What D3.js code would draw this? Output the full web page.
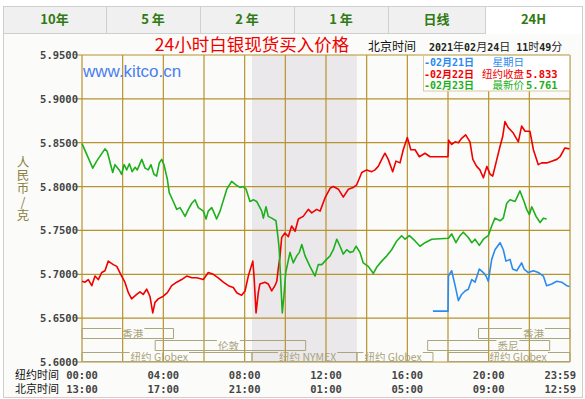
<!DOCTYPE html>
<html>
<head>
<meta charset="utf-8">
<script src="https://cdn.jsdelivr.net/npm/d3@7"></script>
<style>
body { margin:0; background:#fff; }
svg { display:block; }
</style>
</head>
<body>
<div id="chart"></div>
<script>
// tabs across the top
var tabNames = ['10年', '5 年', '2 年', '1 年', '日线', '24H'];
var tabEdges = [3, 106, 200, 294, 388, 485, 582];

var yTicks = [5.60, 5.65, 5.70, 5.75, 5.80, 5.85, 5.90, 5.95];
var nyTimes = ['00:00', '04:00', '08:00', '12:00', '16:00', '20:00', '23:59'];
var bjTimes = ['13:00', '17:00', '21:00', '01:00', '05:00', '09:00', '12:59'];
var timeHours = [0, 4, 8, 12, 16, 20, 24];

// [hour of New York day, price]
var blueSeries = [[17.26,5.658],[18.0,5.658],[18.02,5.698],[18.18,5.704],[18.35,5.687],[18.51,5.670],[18.67,5.677],
	[18.84,5.681],[19.0,5.683],[19.17,5.694],[19.33,5.691],[19.54,5.706],[19.74,5.702],[19.87,5.698],[19.98,5.692],
	[20.15,5.717],[20.31,5.728],[20.56,5.736],[20.72,5.728],[20.85,5.715],[21.05,5.717],[21.18,5.706],[21.38,5.704],
	[21.62,5.713],[21.74,5.706],[21.95,5.702],[22.2,5.704],[22.44,5.702],[22.69,5.698],[22.85,5.687],[23.1,5.689],
	[23.35,5.692],[23.59,5.691],[23.84,5.687],[23.97,5.686]];

var redSeries = [[0,5.692],[0.15,5.691],[0.31,5.694],[0.48,5.687],[0.64,5.698],[0.8,5.694],[0.97,5.702],[1.13,5.704],
	[1.29,5.715],[1.54,5.711],[1.71,5.709],[1.95,5.698],[2.11,5.691],[2.28,5.679],[2.44,5.672],[2.69,5.677],[2.85,5.680],
	[3.01,5.677],[3.18,5.683],[3.34,5.675],[3.48,5.656],[3.59,5.668],[3.75,5.672],[4.0,5.675],[4.2,5.679],[4.41,5.687],
	[4.66,5.691],[4.9,5.694],[5.15,5.698],[5.4,5.696],[5.64,5.696],[5.97,5.694],[6.21,5.702],[6.46,5.700],[6.7,5.696],
	[6.95,5.691],[7.2,5.687],[7.44,5.685],[7.61,5.679],[7.85,5.676],[8.02,5.681],[8.18,5.698],[8.4,5.715],[8.46,5.698],
	[8.56,5.656],[8.67,5.679],[8.75,5.689],[9.0,5.691],[9.16,5.689],[9.33,5.681],[9.49,5.687],[9.58,5.692],[9.65,5.706],
	[9.74,5.721],[9.82,5.742],[9.98,5.747],[10.15,5.743],[10.31,5.755],[10.48,5.749],[10.64,5.763],[10.88,5.766],
	[11.13,5.774],[11.3,5.770],[11.54,5.774],[11.71,5.772],[11.95,5.787],[12.2,5.798],[12.36,5.800],[12.61,5.797],
	[12.85,5.788],[13.1,5.797],[13.34,5.799],[13.51,5.802],[13.76,5.816],[14.0,5.819],[14.25,5.817],[14.41,5.819],
	[14.57,5.823],[14.74,5.831],[14.9,5.838],[15.06,5.831],[15.28,5.817],[15.44,5.829],[15.64,5.827],[15.8,5.842],
	[16.0,5.856],[16.17,5.842],[16.38,5.842],[16.59,5.834],[16.87,5.838],[17.12,5.834],[18.0,5.834],[18.03,5.853],
	[18.18,5.848],[18.35,5.851],[18.51,5.850],[18.67,5.855],[18.87,5.859],[19.08,5.851],[19.22,5.831],[19.41,5.823],
	[19.57,5.819],[19.74,5.810],[19.91,5.823],[20.07,5.814],[20.2,5.812],[20.36,5.827],[20.56,5.846],[20.69,5.857],
	[20.8,5.874],[20.97,5.867],[21.21,5.861],[21.46,5.851],[21.62,5.869],[21.79,5.863],[22.03,5.863],[22.2,5.842],
	[22.44,5.825],[22.61,5.827],[22.85,5.827],[23.1,5.829],[23.35,5.831],[23.51,5.834],[23.75,5.844],[23.97,5.843]];

var greenSeries = [[0,5.849],[0.53,5.821],[0.72,5.829],[1.13,5.843],[1.24,5.840],[1.51,5.816],[1.62,5.825],[1.83,5.819],
	[1.95,5.814],[2.07,5.825],[2.2,5.819],[2.33,5.826],[2.47,5.817],[2.61,5.822],[2.72,5.819],[2.94,5.831],[3.1,5.821],
	[3.26,5.819],[3.39,5.825],[3.54,5.814],[3.67,5.812],[3.8,5.827],[3.92,5.831],[4.03,5.825],[4.2,5.808],[4.29,5.793],
	[4.49,5.783],[4.66,5.774],[4.82,5.776],[5.07,5.766],[5.23,5.774],[5.4,5.781],[5.56,5.785],[5.72,5.776],[5.97,5.772],
	[6.1,5.763],[6.21,5.772],[6.38,5.776],[6.46,5.772],[6.62,5.763],[6.79,5.772],[7.12,5.797],[7.36,5.806],[7.57,5.802],
	[7.77,5.799],[7.93,5.800],[8.07,5.797],[8.26,5.783],[8.43,5.785],[8.59,5.783],[8.84,5.772],[8.92,5.764],[9.05,5.777],
	[9.16,5.766],[9.33,5.764],[9.54,5.761],[9.65,5.740],[9.7,5.728],[9.77,5.694],[9.85,5.656],[9.93,5.675],[10.02,5.702],
	[10.23,5.725],[10.39,5.713],[10.56,5.721],[10.69,5.725],[10.81,5.734],[10.97,5.721],[11.21,5.709],[11.46,5.698],
	[11.62,5.711],[11.79,5.711],[12.03,5.717],[12.2,5.721],[12.36,5.728],[12.53,5.740],[12.69,5.732],[12.85,5.723],
	[13.02,5.728],[13.18,5.725],[13.34,5.726],[13.48,5.732],[13.67,5.725],[13.83,5.713],[14.08,5.709],[14.33,5.701],
	[14.49,5.708],[14.74,5.715],[14.99,5.721],[15.23,5.728],[15.48,5.738],[15.72,5.744],[15.89,5.740],[16.1,5.744],
	[16.38,5.738],[16.62,5.732],[16.87,5.736],[17.2,5.740],[18.02,5.741],[18.18,5.746],[18.39,5.736],[18.59,5.744],
	[18.75,5.748],[19.0,5.742],[19.17,5.736],[19.33,5.740],[19.54,5.733],[19.74,5.740],[19.98,5.744],[20.15,5.755],
	[20.31,5.764],[20.56,5.761],[20.72,5.764],[20.89,5.781],[21.05,5.785],[21.3,5.783],[21.54,5.795],[21.74,5.783],
	[21.87,5.774],[22.0,5.768],[22.12,5.777],[22.33,5.766],[22.53,5.759],[22.69,5.764],[22.85,5.763]];

var legendRows = [
	{day:'-02月21日', label:'星期日', value:'', color:'#2b8af0'},
	{day:'-02月22日', label:'纽约收盘', value:'5.833', color:'#f00000'},
	{day:'-02月23日', label:'最新价', value:'5.761', color:'#1cb01c'}
];

// trading sessions at the foot of the chart (row, start hour, end hour, label centre hour)
var sessionNames = ['香港', '香港', '伦敦', '悉尼', '纽约 Globex', '纽约 NYMEX', '纽约 Globex', '纽约 Globex'];
var sessionRows = [0, 0, 1, 1, 2, 2, 2, 2];
var sessionStart = [0, 19.5, 3.6, 17.0, 0, 8.36, 13.52, 18.0];
var sessionEnd = [4.5, 24.5, 11.0, 23.0, 8.36, 13.52, 17.26, 24.5];
var sessionLabelAt = [2.5, 22.2, 7.2, 20.95, 3.8, 11.1, 15.3, 21.45];
var pitHours = [8.36, 13.52];

var W = 585, H = 399;
var svg = d3.select('#chart').append('svg').attr('width', W).attr('height', H);

var monoFont = '"DejaVu Sans Mono", "Noto Sans CJK SC", monospace';
var cjkFont = '"Noto Sans CJK SC", "DejaVu Sans", sans-serif';
var gridColor = '#b8922e';

// tabs
tabNames.forEach(function(name, i) {
	var x0 = tabEdges[i], x1 = tabEdges[i+1];
	var active = i == tabNames.length - 1;
	svg.append('rect')
		.attr('x', x0 + 0.5).attr('y', 6.5)
		.attr('width', x1 - x0).attr('height', 27)
		.attr('fill', active ? '#ffffff' : '#f0f0f0')
		.attr('stroke', '#cfcfcf');
	svg.append('text')
		.attr('x', (x0 + x1) / 2).attr('y', 24)
		.attr('text-anchor', 'middle')
		.style('font-family', '"Noto Sans CJK SC", "DejaVu Sans", sans-serif')
		.style('font-weight', 'bold').style('font-size', '13px')
		.attr('fill', '#2f7a12')
		.text(name);
});

// panel
svg.append('rect')
	.attr('x', 3.5).attr('y', 33.5).attr('width', 579).attr('height', 364)
	.attr('fill', '#fbfcf9').attr('stroke', '#cfcfcf');
// hide the line under the active tab
svg.append('line')
	.attr('x1', tabEdges[5] + 1).attr('x2', tabEdges[6])
	.attr('y1', 33.5).attr('y2', 33.5)
	.attr('stroke', '#ffffff');

var x = d3.scaleLinear().domain([0, 24]).range([82, 570]);
var y = d3.scaleLinear().domain([5.6, 5.95]).range([362, 55]);

var plot = svg.append('g');

// NYMEX pit hours shading
plot.append('rect')
	.attr('x', x(pitHours[0])).attr('y', y(5.95))
	.attr('width', x(pitHours[1]) - x(pitHours[0]))
	.attr('height', y(5.6) - y(5.95))
	.attr('fill', '#ebe8ec');

// grid
plot.selectAll('.hgrid').data(yTicks).enter().append('line')
	.attr('x1', x(0) - 5).attr('x2', x(24))
	.attr('y1', function(d) { return y(d); })
	.attr('y2', function(d) { return y(d); })
	.attr('stroke', gridColor).attr('stroke-width', 1.2);

plot.selectAll('.vgrid').data(d3.range(0, 25, 2)).enter().append('line')
	.attr('x1', function(d) { return x(d); })
	.attr('x2', function(d) { return x(d); })
	.attr('y1', y(5.95)).attr('y2', y(5.6))
	.attr('stroke', gridColor).attr('stroke-width', 1.2);

// session boxes
var rowTop = [328.5, 340.5, 352.5];
var rowBottom = [339, 351, 362];
var sessions = svg.append('g');
sessionNames.forEach(function(name, i) {
	var r = sessionRows[i];
	var x0 = Math.max(x(sessionStart[i]), x(0)), x1 = Math.min(x(sessionEnd[i]), x(24));
	var t = sessions.append('text')
		.attr('x', x(sessionLabelAt[i])).attr('y', rowBottom[r] - 1.5)
		.attr('text-anchor', 'middle')
		.style('font-family', '"Noto Sans CJK SC", "Liberation Sans", sans-serif')
		.style('font-size', '10.5px')
		.attr('fill', '#aaa27c')
		.text(name);
	var w = t.node().getComputedTextLength();
	var tl = x(sessionLabelAt[i]) - w / 2 - 1, tr = x(sessionLabelAt[i]) + w / 2 + 1;
	var top = rowTop[r], bot = rowBottom[r] - 0.5;
	var p = d3.path();
	p.moveTo(tl, top); p.lineTo(x0, top); p.lineTo(x0, bot); p.lineTo(x1, bot); p.lineTo(x1, top); p.lineTo(tr, top);
	sessions.append('path').attr('d', p.toString())
		.attr('fill', 'none').attr('stroke', '#aba57a').attr('stroke-width', 1);
});

// y axis labels
svg.selectAll('.ylab').data(yTicks).enter().append('text')
	.attr('x', 78).attr('y', function(d) { return y(d) + 4; })
	.attr('text-anchor', 'end')
	.style('font-family', monoFont).style('font-weight', 'bold').style('font-size', '10.5px')
	.attr('fill', '#444')
	.text(function(d) { return d.toFixed(4); });

// unit label, written top to bottom
svg.append('text')
	.attr('x', 23).attr('y', 156)
	.style('writing-mode', 'vertical-rl')
	.style('text-orientation', 'upright')
	.style('letter-spacing', '0.7px')
	.style('font-family', cjkFont).style('font-size', '12.5px')
	.attr('fill', '#8a8040')
	.text('人民币/克');

// price lines
var line = d3.line()
	.x(function(d) { return x(d[0]); })
	.y(function(d) { return y(d[1]); });

[[blueSeries, '#2b8af0'], [redSeries, '#f00000'], [greenSeries, '#1cb01c']].forEach(function(s) {
	plot.append('path').datum(s[0])
		.attr('d', line)
		.attr('fill', 'none')
		.attr('stroke', s[1])
		.attr('stroke-width', 1.6)
		.attr('stroke-linejoin', 'round');
});

// time labels
var timeFont = function(sel) {
	sel.style('font-family', monoFont).style('font-weight', 'bold').style('font-size', '10.5px').attr('fill', '#444');
};
[[nyTimes, 379, '纽约时间'], [bjTimes, 393, '北京时间']].forEach(function(row) {
	svg.append('text')
		.attr('x', 15).attr('y', row[1])
		.style('font-family', cjkFont).style('font-size', '11px').attr('fill', '#111')
		.text(row[2]);
	svg.selectAll(null).data(row[0]).enter().append('text')
		.attr('x', function(d, i) { return i == 6 ? 576 : x(timeHours[i]); })
		.attr('y', row[1])
		.attr('text-anchor', function(d, i) { return i == 6 ? 'end' : 'middle'; })
		.call(timeFont)
		.text(function(d) { return d; });
});

// title and time stamp
svg.append('text')
	.attr('x', 252).attr('y', 51)
	.attr('text-anchor', 'middle')
	.style('font-family', cjkFont).style('font-size', '17.5px')
	.attr('fill', '#f00000')
	.text('24小时白银现货买入价格');

svg.append('text')
	.attr('x', 368).attr('y', 51)
	.style('font-family', cjkFont).style('font-size', '12px').attr('fill', '#111')
	.text('北京时间');

var stamp = svg.append('text').attr('x', 429).attr('y', 51).attr('fill', '#222');
[['2021', 1], ['年', 0], ['02', 1], ['月', 0], ['24', 1], ['日', 0], [' 11', 1], ['时', 0], ['49', 1], ['分', 0]].forEach(function(p) {
	stamp.append('tspan')
		.style('font-family', p[1] ? monoFont : cjkFont)
		.style('font-weight', p[1] ? 'bold' : 'normal')
		.style('font-size', p[1] ? '10px' : '11px')
		.text(p[0]);
});

svg.append('text')
	.attr('x', 83).attr('y', 77)
	.style('font-family', '"Liberation Sans", Arial, sans-serif').style('font-size', '17px')
	.attr('fill', '#4a7ef0')
	.text('www.kitco.cn');

// legend
var legend = svg.append('g');
legend.append('rect')
	.attr('x', 423.5).attr('y', 55.5).attr('width', 146).attr('height', 35.5)
	.attr('fill', '#ffffff').attr('stroke', '#d8c9a2');
legendRows.forEach(function(r, i) {
	var ly = 66 + i * 11.5;
	legend.append('text').attr('x', 424).attr('y', ly)
		.style('font-family', monoFont).style('font-weight', 'bold').style('font-size', '10px')
		.attr('fill', r.color).text(r.day);
	legend.append('text').attr('x', 524).attr('y', ly).attr('text-anchor', 'end')
		.style('font-family', cjkFont).style('font-size', '10.5px')
		.attr('fill', r.color).text(r.label);
	legend.append('text').attr('x', 526).attr('y', ly)
		.style('font-family', monoFont).style('font-weight', 'bold').style('font-size', '10.5px')
		.attr('fill', r.color).text(r.value);
});
</script>
</body>
</html>
